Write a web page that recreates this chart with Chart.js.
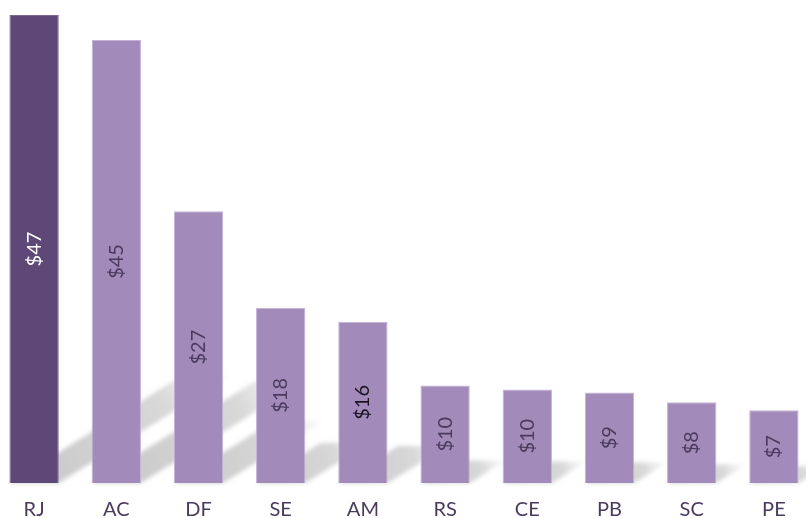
<!DOCTYPE html>
<html>
<head>
<meta charset="utf-8">
<script src="https://cdn.jsdelivr.net/npm/chart.js@4/dist/chart.umd.min.js"></script>
<style>
  html, body { margin: 0; padding: 0; background: #fff; overflow: hidden; }
  #box { position: absolute; left: -7px; top: 0; width: 822px; height: 518px; }
</style>
</head>
<body>
<div id="box"><canvas id="grafico"></canvas></div>
<script>
const estados = ['RJ', 'AC', 'DF', 'SE', 'AM', 'RS', 'CE', 'PB', 'SC', 'PE'];
const valores = [47, 44.5, 27.3, 17.6, 16.2, 9.8, 9.4, 9.1, 8.1, 7.3];
const rotulos = ['$47', '$45', '$27', '$18', '$16', '$10', '$10', '$9', '$8', '$7'];

const corEscura = '#5e4878';
const corClara = '#a28bba';

// sombra diagonal atras de cada barra
const sombras = {
  id: 'sombras',
  beforeDatasetsDraw(chart) {
    const ctx = chart.ctx;
    const meta = chart.getDatasetMeta(0);
    ctx.save();
    ctx.filter = 'blur(2px)';
    meta.data.forEach((bar) => {
      const h = bar.base - bar.y;
      const esq = bar.x - bar.width / 2;
      const dir = bar.x + bar.width / 2;
      const dx = h * 0.37;
      const dy = h * 0.23;
      const grad = ctx.createLinearGradient(esq, bar.base, dir + dx, bar.base - dy);
      grad.addColorStop(0, 'rgba(175,175,175,0.7)');
      grad.addColorStop(0.7, 'rgba(195,195,195,0.65)');
      grad.addColorStop(1, 'rgba(215,215,215,0.1)');
      ctx.fillStyle = grad;
      ctx.beginPath();
      ctx.moveTo(esq, bar.base);
      ctx.lineTo(dir, bar.base);
      ctx.lineTo(dir + dx, bar.base - dy);
      ctx.lineTo(esq + dx, bar.base - dy);
      ctx.closePath();
      ctx.fill();
    });
    ctx.restore();
  }
};

// rotulos girados no meio das barras
const rotulosBarras = {
  id: 'rotulosBarras',
  afterDatasetsDraw(chart) {
    const ctx = chart.ctx;
    const meta = chart.getDatasetMeta(0);
    ctx.save();
    ctx.font = '20px Lato';
    ctx.textAlign = 'center';
    ctx.textBaseline = 'middle';
    meta.data.forEach((bar, i) => {
      ctx.save();
      ctx.translate(bar.x, (bar.y + bar.base) / 2);
      ctx.rotate(-Math.PI / 2);
      ctx.fillStyle = i === 0 ? '#ffffff' : (i === 4 ? '#1a1420' : '#4a3a5e');
      ctx.fillText(rotulos[i], 0, 0);
      ctx.restore();
    });
    ctx.restore();
  }
};

const grafico = new Chart(document.getElementById('grafico'), {
  type: 'bar',
  data: {
    labels: estados,
    datasets: [{
      data: valores,
      backgroundColor: valores.map((v, i) => i === 0 ? corEscura : corClara),
      borderColor: valores.map((v, i) => i === 0 ? '#7a6694' : '#c3b1d6'),
      borderWidth: 1,
      barPercentage: 0.6,
      categoryPercentage: 1
    }]
  },
  options: {
    responsive: true,
    maintainAspectRatio: false,
    animation: false,
    events: [],
    layout: { padding: { top: 15, bottom: 0, left: 0, right: 0 } },
    plugins: { legend: { display: false }, tooltip: { enabled: false } },
    scales: {
      x: {
        grid: { display: false },
        border: { display: false },
        ticks: { color: '#4a3a5e', font: { family: 'Lato', size: 20 }, padding: 7 },
        afterFit(scale) { scale.height = 35; }
      },
      y: { display: false, min: 0, max: 47 }
    }
  },
  plugins: [sombras, rotulosBarras]
});
</script>
</body>
</html>
